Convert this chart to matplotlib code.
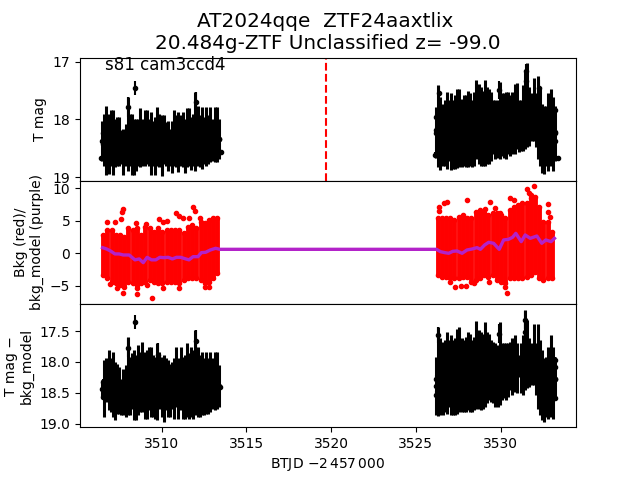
# Light curve of AT2024qqe, three stacked panels
import matplotlib
matplotlib.use("Agg")
import numpy as np
import matplotlib.pyplot as plt

# Times of the two observing blocks (BTJD)
t_a = [3506.5, 3506.625, 3506.75, 3506.875, 3507.0, 3507.125, 3507.25, 3507.375, 3507.5, 3507.625,
       3507.75, 3507.875, 3508.0, 3508.125, 3508.25, 3508.375, 3508.5, 3508.625, 3508.75, 3508.875,
       3509.0, 3509.125, 3509.25, 3509.375, 3509.5, 3509.625, 3509.75, 3509.875, 3510.0, 3510.125,
       3510.25, 3510.375, 3510.5, 3510.625, 3510.75, 3510.875, 3511.0, 3511.125, 3511.25, 3511.375,
       3511.5, 3511.625, 3511.75, 3511.875, 3512.0, 3512.125, 3512.25, 3512.375, 3512.5, 3512.625,
       3512.75, 3512.875, 3513.0, 3513.125, 3513.25, 3513.375]
t_b = [3526.2, 3526.325, 3526.45, 3526.575, 3526.7, 3526.825, 3526.95, 3527.075, 3527.2, 3527.325,
       3527.45, 3527.575, 3527.7, 3527.825, 3527.95, 3528.075, 3528.2, 3528.325, 3528.45, 3528.575,
       3528.7, 3528.825, 3528.95, 3529.075, 3529.2, 3529.325, 3529.45, 3529.575, 3529.7, 3529.825,
       3529.95, 3530.075, 3530.2, 3530.325, 3530.45, 3530.575, 3530.7, 3530.825, 3530.95, 3531.075,
       3531.2, 3531.325, 3531.45, 3531.575, 3531.7, 3531.825, 3531.95, 3532.075, 3532.2, 3532.325,
       3532.45, 3532.575, 3532.7, 3532.825, 3532.95, 3533.075, 3533.2]

# T mag, upper and lower ends of the error bars
mag_top_a = [18.02, 17.90, 17.76, 17.90, 17.84, 17.84, 17.99, 17.96, 17.96, 18.19, 18.16, 18.08, 17.61, 17.90,
             17.90, 17.99, 17.99, 17.99, 17.81, 17.99, 17.84, 17.84, 17.99, 17.87, 18.02, 17.96, 17.79, 17.90,
             17.93, 17.93, 18.05, 18.02, 18.16, 18.02, 17.83, 17.93, 17.87, 17.93, 17.87, 17.99, 17.81, 17.81,
             17.96, 17.90, 17.52, 17.76, 17.93, 17.79, 17.96, 17.79, 17.93, 17.79, 17.99, 17.79, 17.79, 17.99]
mag_bot_a = [18.71, 18.80, 18.96, 18.94, 18.80, 18.96, 18.83, 18.80, 18.80, 18.77, 18.96, 18.80, 18.89, 18.80,
             18.96, 18.96, 18.89, 18.80, 18.83, 18.80, 18.80, 18.77, 18.80, 18.96, 18.80, 18.96, 18.80, 18.83,
             18.97, 18.77, 18.80, 18.89, 18.80, 18.92, 18.80, 18.83, 18.90, 18.80, 18.83, 18.92, 18.83, 18.80,
             18.88, 18.80, 18.89, 18.80, 18.83, 18.86, 18.77, 18.80, 18.77, 18.74, 18.71, 18.74, 18.74, 18.68]
mag_top_b = [17.79, 17.41, 17.61, 17.73, 17.67, 17.52, 17.67, 17.55, 17.67, 17.58, 17.47, 17.47, 17.64, 17.58,
             17.58, 17.50, 17.55, 17.67, 17.52, 17.31, 17.38, 17.44, 17.50, 17.31, 17.44, 17.47, 17.52, 17.67,
             17.67, 17.67, 17.35, 17.55, 17.55, 17.52, 17.52, 17.58, 17.52, 17.38, 17.37, 17.67, 17.67, 17.41,
             17.18, 17.03, 17.44, 17.55, 17.28, 17.55, 17.25, 17.44, 17.73, 17.76, 17.76, 17.55, 17.48, 17.61, 17.76]
mag_bot_b = [18.66, 18.83, 18.88, 18.80, 18.80, 18.86, 18.71, 18.88, 18.86, 18.86, 18.84, 18.83, 18.83, 18.80,
             18.83, 18.82, 18.80, 18.83, 18.80, 18.68, 18.77, 18.80, 18.80, 18.80, 18.77, 18.77, 18.71, 18.60,
             18.68, 18.66, 18.68, 18.63, 18.66, 18.68, 18.60, 18.63, 18.60, 18.60, 18.51, 18.57, 18.54, 18.54,
             18.51, 18.48, 18.45, 18.37, 18.37, 18.48, 18.68, 18.80, 18.92, 18.94, 18.80, 18.89, 18.80, 18.89, 18.71]

# Separate T mag points that stand out of the mass
extra_t1 = [3508.43, 3508.03, 3512.01, 3509.80, 3506.41, 3513.53, 3506.52, 3506.52, 3513.39,
            3526.35, 3531.51, 3531.49, 3529.92, 3532.24, 3526.12, 3533.37, 3526.22, 3526.22,
            3533.22, 3533.22, 3533.22]
extra_m1 = [17.45, 17.78, 17.69, 17.98, 18.66, 18.57, 18.24, 18.43, 18.33,
            17.54, 17.16, 17.33, 17.49, 17.46, 18.61, 18.67, 17.95, 18.18,
            17.84, 18.21, 18.38]
extra_e1 = [0.12, 0.17, 0.17, 0.10, 0.03, 0.03, 0.05, 0.05, 0.05,
            0.12, 0.12, 0.12, 0.15, 0.15, 0.04, 0.04, 0.05, 0.05,
            0.05, 0.05, 0.05]

# Background, upper and lower edge of the red cloud
bkg_t_a = [3506.55, 3506.80, 3507.05, 3507.30, 3507.55, 3507.80, 3508.05, 3508.30, 3508.55, 3508.80,
           3509.05, 3509.30, 3509.55, 3509.80, 3510.05, 3510.30, 3510.55, 3510.80, 3511.05, 3511.30,
           3511.55, 3511.80, 3512.05, 3512.30, 3512.55, 3512.80, 3513.05, 3513.30]
bkg_hi_a = [2.85, 3.62, 3.62, 2.85, 2.85, 2.59, 3.87, 3.62, 3.87, 2.85, 4.13, 3.87, 3.36, 3.87,
            3.36, 3.62, 3.62, 3.62, 3.62, 3.10, 4.13, 4.39, 3.87, 4.90, 4.64, 5.16, 5.41, 5.41]
bkg_lo_a = [-3.31, -3.82, -4.33, -4.59, -4.84, -5.10, -4.33, -4.59, -4.84, -4.59, -4.33, -4.07, -4.33, -4.59,
            -4.59, -4.33, -4.33, -4.33, -4.59, -4.07, -3.82, -3.82, -3.82, -4.07, -4.59, -4.33, -3.82, -3.05]
bkg_t_b = [3526.28, 3526.53, 3526.78, 3527.03, 3527.28, 3527.53, 3527.78, 3528.03, 3528.28, 3528.53,
           3528.78, 3529.03, 3529.28, 3529.53, 3529.78, 3530.03, 3530.28, 3530.53, 3530.78, 3531.03,
           3531.28, 3531.53, 3531.78, 3532.03, 3532.28, 3532.53, 3532.78, 3533.03]
bkg_hi_b = [5.41, 5.41, 5.41, 5.41, 5.16, 5.67, 5.92, 5.41, 5.41, 6.44, 6.69, 6.18, 5.92, 6.18,
            6.18, 5.92, 5.41, 6.69, 7.21, 7.46, 7.72, 7.72, 8.49, 8.75, 7.21, 4.90, 4.90, 3.36]
bkg_lo_b = [-3.31, -3.56, -3.56, -3.82, -3.82, -3.82, -3.56, -3.56, -4.33, -4.07, -3.82, -3.31, -3.56, -3.31,
            -4.07, -4.33, -4.59, -3.82, -3.82, -3.82, -3.82, -3.56, -3.31, -2.79, -3.82, -4.07, -3.82, -3.82]

# Single background points outside the cloud edge
bkg_out_t = [3507.74, 3507.66, 3511.86, 3511.95, 3506.76, 3507.25, 3507.58, 3510.84, 3511.03, 3511.27,
             3511.62, 3509.86, 3510.33, 3510.09, 3509.07, 3508.48, 3512.25, 3507.74, 3506.95, 3507.39,
             3508.56, 3508.56, 3509.44, 3509.15, 3510.09, 3511.03, 3512.54, 3512.80,
             3526.65, 3526.84, 3526.35, 3526.35, 3528.00, 3529.39, 3529.06, 3530.57, 3530.82, 3531.55,
             3532.00, 3531.65, 3531.81, 3532.82, 3532.77, 3532.94, 3529.98, 3529.69, 3527.04, 3527.34,
             3527.69, 3527.96, 3528.41, 3529.30, 3530.28, 3530.37]
bkg_out_v = [6.80, 6.34, 7.10, 6.59, 4.80, 4.90, 5.26, 6.18, 5.77, 5.51,
             5.51, 5.31, 5.05, 4.90, 4.54, 4.64, 5.41, -6.13, -4.74, -5.36,
             -5.36, -6.28, -6.90, -4.84, -5.36, -5.36, -5.20, -5.10,
             7.82, 7.87, 7.21, 6.59, 8.23, 7.87, 6.80, 8.59, 8.23, 9.87,
             10.39, 9.26, 9.00, 7.62, 6.34, 5.57, 6.18, 7.05, -4.43, -5.20,
             -4.95, -5.00, -4.59, -4.33, -5.10, -6.13]

# Background model
model_t = [3506.52, 3506.76, 3506.99, 3507.25, 3507.50, 3507.74, 3508.09, 3508.43, 3508.68, 3508.92,
           3509.15, 3509.41, 3509.66, 3509.90, 3510.13, 3510.39, 3510.64, 3510.88, 3511.13, 3511.43,
           3511.62, 3511.86, 3512.15, 3512.35, 3512.60, 3512.88, 3513.19, 3513.43,
           3526.22, 3526.45, 3526.71, 3526.94, 3527.18, 3527.43, 3527.73, 3528.02, 3528.32, 3528.61,
           3528.81, 3529.06, 3529.30, 3529.59, 3529.92, 3530.18, 3530.47, 3530.71, 3530.90, 3531.22,
           3531.45, 3531.75, 3532.14, 3532.43, 3532.67, 3532.98, 3533.18]
model_v = [0.90, 0.69, 0.39, -0.07, -0.07, -0.23, -0.23, -0.98, -0.84, -1.41,
           -0.59, -0.98, -0.98, -0.59, -0.64, -0.59, -0.84, -0.59, -0.59, -0.84,
           -0.98, -0.49, -0.49, 0.13, 0.18, 0.54, 0.80, 0.64,
           0.64, 0.28, 0.13, 0.03, 0.33, 0.39, 0.03, 0.54, 0.69, 0.90,
           0.64, 1.31, 1.72, 1.57, 0.64, 2.08, 2.18, 2.49, 3.10, 1.82,
           2.85, 2.33, 2.69, 1.57, 2.08, 1.82, 2.33]

# T mag minus background model
sub_top_a = [18.30, 17.97, 17.94, 17.80, 17.94, 17.84, 18.00, 18.03, 18.08, 18.27, 18.11, 18.05, 17.60, 17.92,
             17.86, 17.81, 17.89, 17.73, 17.84, 17.67, 17.84, 17.81, 17.75, 17.75, 17.89, 17.92, 17.69, 17.84,
             17.92, 17.89, 17.94, 17.97, 18.03, 18.00, 17.94, 17.75, 17.94, 17.75, 17.92, 17.89, 17.70, 17.86,
             17.75, 17.81, 17.48, 17.75, 17.89, 17.84, 17.94, 17.84, 17.94, 17.84, 17.94, 17.84, 17.84, 18.05]
sub_bot_a = [18.57, 18.90, 18.65, 18.78, 18.81, 18.89, 18.94, 18.84, 18.84, 18.86, 18.86, 18.89, 18.86, 18.86,
             18.76, 18.94, 18.94, 18.86, 18.81, 18.81, 18.92, 18.92, 18.78, 18.89, 18.89, 18.92, 18.94, 18.76,
             18.89, 18.97, 18.78, 18.89, 18.89, 18.76, 18.92, 18.73, 18.92, 18.78, 18.92, 18.92, 18.89, 18.92,
             18.89, 18.92, 18.86, 18.89, 18.89, 18.86, 18.86, 18.84, 18.84, 18.81, 18.76, 18.78, 18.76, 18.73]
sub_top_b = [17.92, 17.43, 17.62, 17.67, 17.65, 17.51, 17.65, 17.57, 17.65, 17.62, 17.46, 17.44, 17.62, 17.65,
             17.59, 17.51, 17.54, 17.65, 17.59, 17.33, 17.48, 17.51, 17.54, 17.36, 17.51, 17.54, 17.65, 17.67,
             17.70, 17.73, 17.36, 17.70, 17.70, 17.70, 17.70, 17.67, 17.62, 17.57, 17.70, 17.89, 17.70, 17.57,
             17.16, 17.32, 17.62, 17.70, 17.38, 17.70, 17.39, 17.65, 17.81, 17.94, 17.92, 17.75, 17.57, 17.75, 17.92]
sub_bot_b = [18.86, 18.88, 18.86, 18.86, 18.81, 18.84, 18.73, 18.86, 18.86, 18.86, 18.84, 18.81, 18.81, 18.81,
             18.81, 18.78, 18.81, 18.81, 18.78, 18.76, 18.76, 18.78, 18.76, 18.73, 18.67, 18.62, 18.65, 18.67,
             18.73, 18.73, 18.70, 18.62, 18.59, 18.62, 18.57, 18.46, 18.54, 18.49, 18.51, 18.24, 18.51, 18.54,
             18.46, 18.43, 18.40, 18.38, 18.38, 18.54, 18.76, 18.86, 18.94, 18.97, 18.89, 18.92, 18.89, 18.92, 18.62]

extra_t3 = [3508.43, 3508.03, 3512.02, 3509.80, 3506.53, 3506.53, 3513.43,
            3526.32, 3531.45, 3531.45, 3529.92, 3526.20, 3526.20, 3533.22, 3533.22, 3533.22, 3533.22]
extra_m3 = [17.35, 17.77, 17.66, 17.89, 18.32, 18.57, 18.41,
            17.57, 17.32, 17.51, 17.54, 18.27, 18.53, 17.97, 18.08, 18.58, 18.27]
extra_e3 = [0.11, 0.15, 0.18, 0.20, 0.05, 0.05, 0.05,
            0.13, 0.15, 0.15, 0.15, 0.05, 0.05, 0.05, 0.05, 0.05, 0.05]

peak_time = 3519.72


def light_curve(ax, t, top, bot):
    top = np.array(top)
    bot = np.array(bot)
    ax.errorbar(t, (top + bot) / 2, yerr=(bot - top) / 2, fmt='k.', elinewidth=2.2)


fig, (ax1, ax2, ax3) = plt.subplots(3, 1, sharex=True)
fig.subplots_adjust(hspace=0)

# Panel 1
light_curve(ax1, t_a, mag_top_a, mag_bot_a)
light_curve(ax1, t_b, mag_top_b, mag_bot_b)
ax1.errorbar(extra_t1, extra_m1, yerr=extra_e1, fmt='k.')
ax1.axvline(peak_time, color='r', ls='--')
ax1.text(3506.66, 17.14, 's81 cam3ccd4', fontsize=12)
ax1.set_ylim(19.06, 16.93)
ax1.set_yticks([17, 18, 19])
ax1.set_ylabel('T mag')
ax1.set_title('AT2024qqe  ZTF24aaxtlix \n20.484g-ZTF Unclassified z= -99.0', fontsize=14.4)

# Panel 2
for t, hi, lo in [(bkg_t_a, bkg_hi_a, bkg_lo_a), (bkg_t_b, bkg_hi_b, bkg_lo_b)]:
    ax2.vlines(t, lo, hi, color='r', lw=3.5)
    ax2.plot(t, hi, 'r.')
    ax2.plot(t, lo, 'r.')
ax2.plot(bkg_out_t, bkg_out_v, 'r.')
ax2.plot(model_t, model_v, color='#b322c9', lw=2.4)
ax2.set_ylim(-7.77, 11.18)
ax2.set_yticks([-5, 0, 5, 10])
ax2.set_ylabel('Bkg (red)/\nbkg_model (purple)')

# Panel 3
light_curve(ax3, t_a, sub_top_a, sub_bot_a)
light_curve(ax3, t_b, sub_top_b, sub_bot_b)
ax3.errorbar(extra_t3, extra_m3, yerr=extra_e3, fmt='k.')
ax3.set_ylim(19.06, 17.06)
ax3.set_yticks([17.5, 18.0, 18.5, 19.0])
ax3.set_ylabel('T mag \u2212\nbkg_model')
ax3.set_xlabel(r'BTJD $-2\,457\,000$')

ax3.set_xlim(3505.19, 3534.45)
ax3.set_xticks([3510, 3515, 3520, 3525, 3530])
ax1.tick_params(bottom=False, labelbottom=False)
ax2.tick_params(bottom=False, labelbottom=False)

fig.savefig('out.png', dpi=100)
